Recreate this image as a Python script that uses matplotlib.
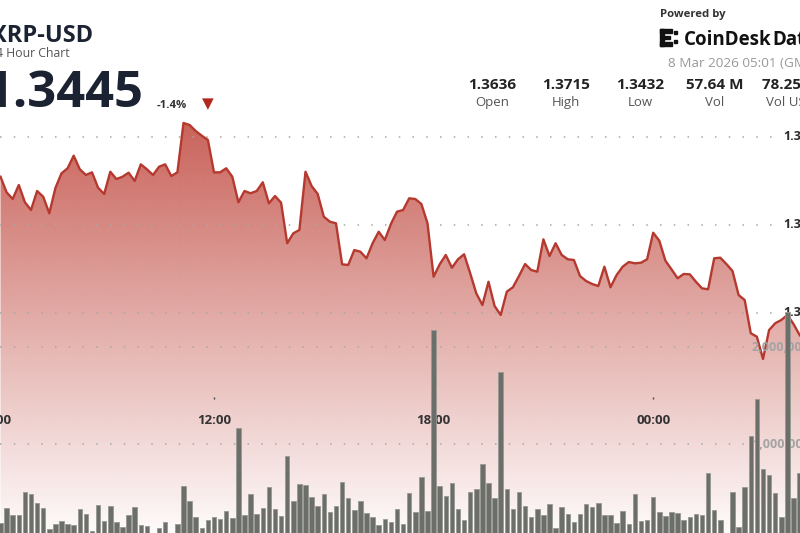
import numpy as np
import matplotlib
matplotlib.use("Agg")
import matplotlib.pyplot as plt
from matplotlib.patches import Polygon, Rectangle

# ── data (10-minute samples) ─────────────────────────────────────────────────
PRICE = [
    1.36545, 1.36368, 1.36292, 1.36451, 1.36255, 1.36167, 1.36383, 1.36318, 1.3613, 1.36417,
    1.36584, 1.36641, 1.36784, 1.3663, 1.36565, 1.36595, 1.3642, 1.36349, 1.36602, 1.36519,
    1.36545, 1.36591, 1.36497, 1.36686, 1.3663, 1.36565, 1.36659, 1.36686, 1.36553, 1.36595,
    1.37156, 1.37133, 1.37065, 1.37011, 1.36963, 1.36595, 1.36595, 1.36641, 1.36545, 1.36255,
    1.36383, 1.36357, 1.36383, 1.36482, 1.36243, 1.36326, 1.3625, 1.35789, 1.35902, 1.3594,
    1.36602, 1.3644, 1.36349, 1.36091, 1.36034, 1.36016, 1.3555, 1.35542, 1.35712, 1.35693,
    1.35618, 1.35789, 1.3592, 1.35826, 1.36008, 1.36148, 1.36167, 1.363, 1.36292, 1.36235,
    1.36016, 1.35409, 1.3555, 1.35656, 1.35511, 1.35607, 1.35664, 1.35448, 1.3522, 1.35087,
    1.35352, 1.35076, 1.34974, 1.35239, 1.35289, 1.35417, 1.35553, 1.35485, 1.35466, 1.35834,
    1.35644, 1.35789, 1.35656, 1.35607, 1.35599, 1.35417, 1.3536, 1.35326, 1.35303, 1.35523,
    1.35289, 1.35428, 1.35523, 1.35576, 1.35561, 1.35568, 1.35607, 1.35909, 1.35818, 1.35591,
    1.35493, 1.35391, 1.3544, 1.35436, 1.35352, 1.35277, 1.35266, 1.35618, 1.35625, 1.35553,
    1.35474, 1.35201, 1.35144, 1.34766, 1.34727, 1.34474, 1.34803, 1.3488, 1.34917, 1.34974,
    1.34872, 1.34747, 1.34667, 1.34576, 1.3461, 1.34542, 1.34497, 1.3445,
]

VOLUME_M = [
    0.19, 0.34, 0.27, 0.27, 0.505, 0.485, 0.395, 0.34, 0.12, 0.18,
    0.205, 0.18, 0.165, 0.33, 0.275, 0.10, 0.375, 0.205, 0.36, 0.195,
    0.14, 0.265, 0.35, 0.17, 0.155, 0.06, 0.137, 0.195, 0.085, 0.18,
    0.567, 0.41, 0.25, 0.13, 0.216, 0.244, 0.227, 0.306, 0.24, 1.165,
    0.268, 0.485, 0.278, 0.34, 0.56, 0.327, 0.258, 0.88, 0.41, 0.59,
    0.58, 0.457, 0.364, 0.488, 0.296, 0.36, 0.608, 0.447, 0.32, 0.41,
    0.29, 0.244, 0.165, 0.23, 0.2, 0.33, 0.18, 0.50, 0.30, 0.656,
    0.31, 2.175, 0.567, 0.46, 0.595, 0.333, 0.216, 0.51, 0.533, 0.79,
    0.60, 0.443, 1.745, 0.54, 0.327, 0.508, 0.36, 0.25, 0.327, 0.268,
    0.38, 0.137, 0.347, 0.278, 0.193, 0.275, 0.38, 0.347, 0.39, 0.268,
    0.268, 0.19, 0.313, 0.178, 0.485, 0.206, 0.216, 0.457, 0.302, 0.258,
    0.296, 0.285, 0.213, 0.25, 0.282, 0.268, 0.70, 0.316, 0.213, 0.06,
    0.505, 0.148, 0.553, 1.08, 1.46, 0.742, 0.684, 0.49, 0.244, 2.36,
    0.443, 0.70,
]

TIME_TICKS = [6, 12, 18, 24]          # hours since 00:00, 7 Mar
TIME_LABELS = ["06:00", "12:00", "18:00", "00:00"]
PRICE_TICKS = [1.35, 1.36, 1.37]
VOL_TICKS = [1_000_000, 2_000_000]

STAT_VALUES = ["1.3636", "1.3715", "1.3432", "57.64 M", "78.25 M"]
STAT_LABELS = ["Open", "High", "Low", "Vol", "Vol USD"]
STAT_X = [492.5, 566, 640, 714.5, 791]

# ── styling ──────────────────────────────────────────────────────────────────
W, H = 800, 533
plt.rcParams["font.family"] = ["Open Sans", "DejaVu Sans"]
NAVY = "#1b2232"
LINE = "#b5392e"
FILL_RGB = (188 / 255, 60 / 255, 50 / 255)
BAR = "#6c6f69"
DOT = "#a8a8a8"

XLIM = (6.153, 28.011)
PLIM = (1.324966, 1.385534)
VLIM = (82_500, 5_577_300)


def fx(px):
    return px / W


def fy(py):
    return 1 - py / H


hours_p = 6 + (np.arange(len(PRICE)) + 1) / 6
hours_v = 6 + (np.arange(len(VOLUME_M)) + 1) / 6
volume = np.array(VOLUME_M) * 1e6

fig = plt.figure(figsize=(W / 100, H / 100), dpi=100, facecolor="white")

# --- price: gradient area + line ---------------------------------------------
ax_p = fig.add_axes([0, 0, 1, 1])
ax_p.axis("off")

verts = [(hours_p[0], PLIM[0])] + list(zip(hours_p, PRICE)) + [(hours_p[-1], PLIM[0])]
area = Polygon(verts, closed=True, facecolor="none", edgecolor="none")
ax_p.add_patch(area)

rows = np.arange(H)
grad = np.zeros((H, 1, 4))
grad[..., 0], grad[..., 1], grad[..., 2] = FILL_RGB
grad[:, 0, 3] = np.clip(0.8 - (rows - 123) / 410 * 0.78, 0, 1)
im = ax_p.imshow(grad, extent=[XLIM[0], XLIM[1], PLIM[0], PLIM[1]],
                 aspect="auto", origin="upper", interpolation="bilinear", zorder=1)
im.set_clip_path(area)

for v in PRICE_TICKS:
    ax_p.axhline(v, xmin=0, xmax=0.968, color=DOT, lw=1.1, dashes=(1, 8), zorder=2)
    ax_p.text(fx(783), v, f"{v:.2f}", transform=ax_p.get_yaxis_transform(),
              ha="left", va="center", fontsize=9, fontweight="bold", color="#2b2b2b")

ax_p.plot(hours_p, PRICE, color=LINE, lw=1.7, solid_joinstyle="round", zorder=3)

xt = ax_p.get_xaxis_transform()
for t, lab in zip(TIME_TICKS, TIME_LABELS):
    ax_p.text(t, fy(420), lab, transform=xt, ha="center", va="center",
              fontsize=9.5, fontweight="bold", color="#333333", zorder=4)
ax_p.plot(TIME_TICKS, [fy(398)] * len(TIME_TICKS), transform=xt, ls="none",
          marker="|", ms=2, mew=1, color="#444444", zorder=4)

ax_p.set_xlim(*XLIM)
ax_p.set_ylim(*PLIM)

# --- volume bars -------------------------------------------------------------
ax_v = fig.add_axes([0, 0, 1, 1], facecolor="none")
ax_v.axis("off")
for v in VOL_TICKS:
    ax_v.axhline(v, xmin=0, xmax=0.93, color=DOT, lw=1.1, dashes=(1, 8), zorder=1)
    ax_v.text(fx(752), v, f"{v:,}", transform=ax_v.get_yaxis_transform(),
              ha="left", va="center", fontsize=9, fontweight="bold", color="#a3a3a3", zorder=2)
ax_v.bar(hours_v, volume, width=0.74 / 6, color=BAR, edgecolor="#979994",
         linewidth=0.6, zorder=3)
ax_v.set_xlim(*XLIM)
ax_v.set_ylim(*VLIM)

# --- header (left) -----------------------------------------------------------
fig.text(fx(92.7), fy(42), "XRP-USD", ha="right", va="baseline",
         fontsize=17, fontweight="bold", color=NAVY)
fig.text(fx(70), fy(57.3), "24 Hour Chart", ha="right", va="baseline",
         fontsize=8.8, color="#555555")
fig.text(fx(143), fy(107.3), "1.3445", ha="right", va="baseline",
         fontsize=36.5, fontweight="bold", color=NAVY)
fig.text(fx(157), fy(108), "-1.4%", ha="left", va="baseline",
         fontsize=8.2, fontweight="bold", color="#333333")
fig.text(fx(207.5), fy(104), "▼", ha="center", va="center",
         fontsize=11, color="#b1281d", family="DejaVu Sans")

# --- header (right) ----------------------------------------------------------
fig.text(fx(660), fy(17.3), "Powered by", ha="left", va="baseline",
         fontsize=8.2, fontweight="bold", color="#333333")

logo = [(660, 29, 4, 17), (660, 29, 12, 4), (660, 42, 12, 4),
        (664, 36, 6, 3), (674, 31, 3, 3), (674, 40, 3, 3)]
for x0, y0, w, h in logo:
    fig.add_artist(Rectangle((fx(x0), fy(y0 + h)), w / W, h / H,
                             transform=fig.transFigure, color="#111111"))
brand = fig.text(fx(684), fy(45), "CoinDesk", ha="left", va="baseline",
                 fontsize=13.5, fontweight="bold", color="#111111")
bb = brand.get_window_extent(fig.canvas.get_renderer())
fig.text(fx(bb.x1 + 1), fy(45), "Data", ha="left", va="baseline",
         fontsize=13.5, fontweight="bold", color="#111111")
fig.text(fx(668), fy(66.7), "8 Mar 2026 05:01 (GMT)", ha="left", va="baseline",
         fontsize=9.7, color="#999999")

for x, val, lab in zip(STAT_X, STAT_VALUES, STAT_LABELS):
    fig.text(fx(x), fy(89.3), val, ha="center", va="baseline",
             fontsize=11, fontweight="bold", color="#222222")
    fig.text(fx(x), fy(106), lab, ha="center", va="baseline",
             fontsize=9.5, color="#555555")

fig.savefig("out.png", dpi=100, facecolor="white")
